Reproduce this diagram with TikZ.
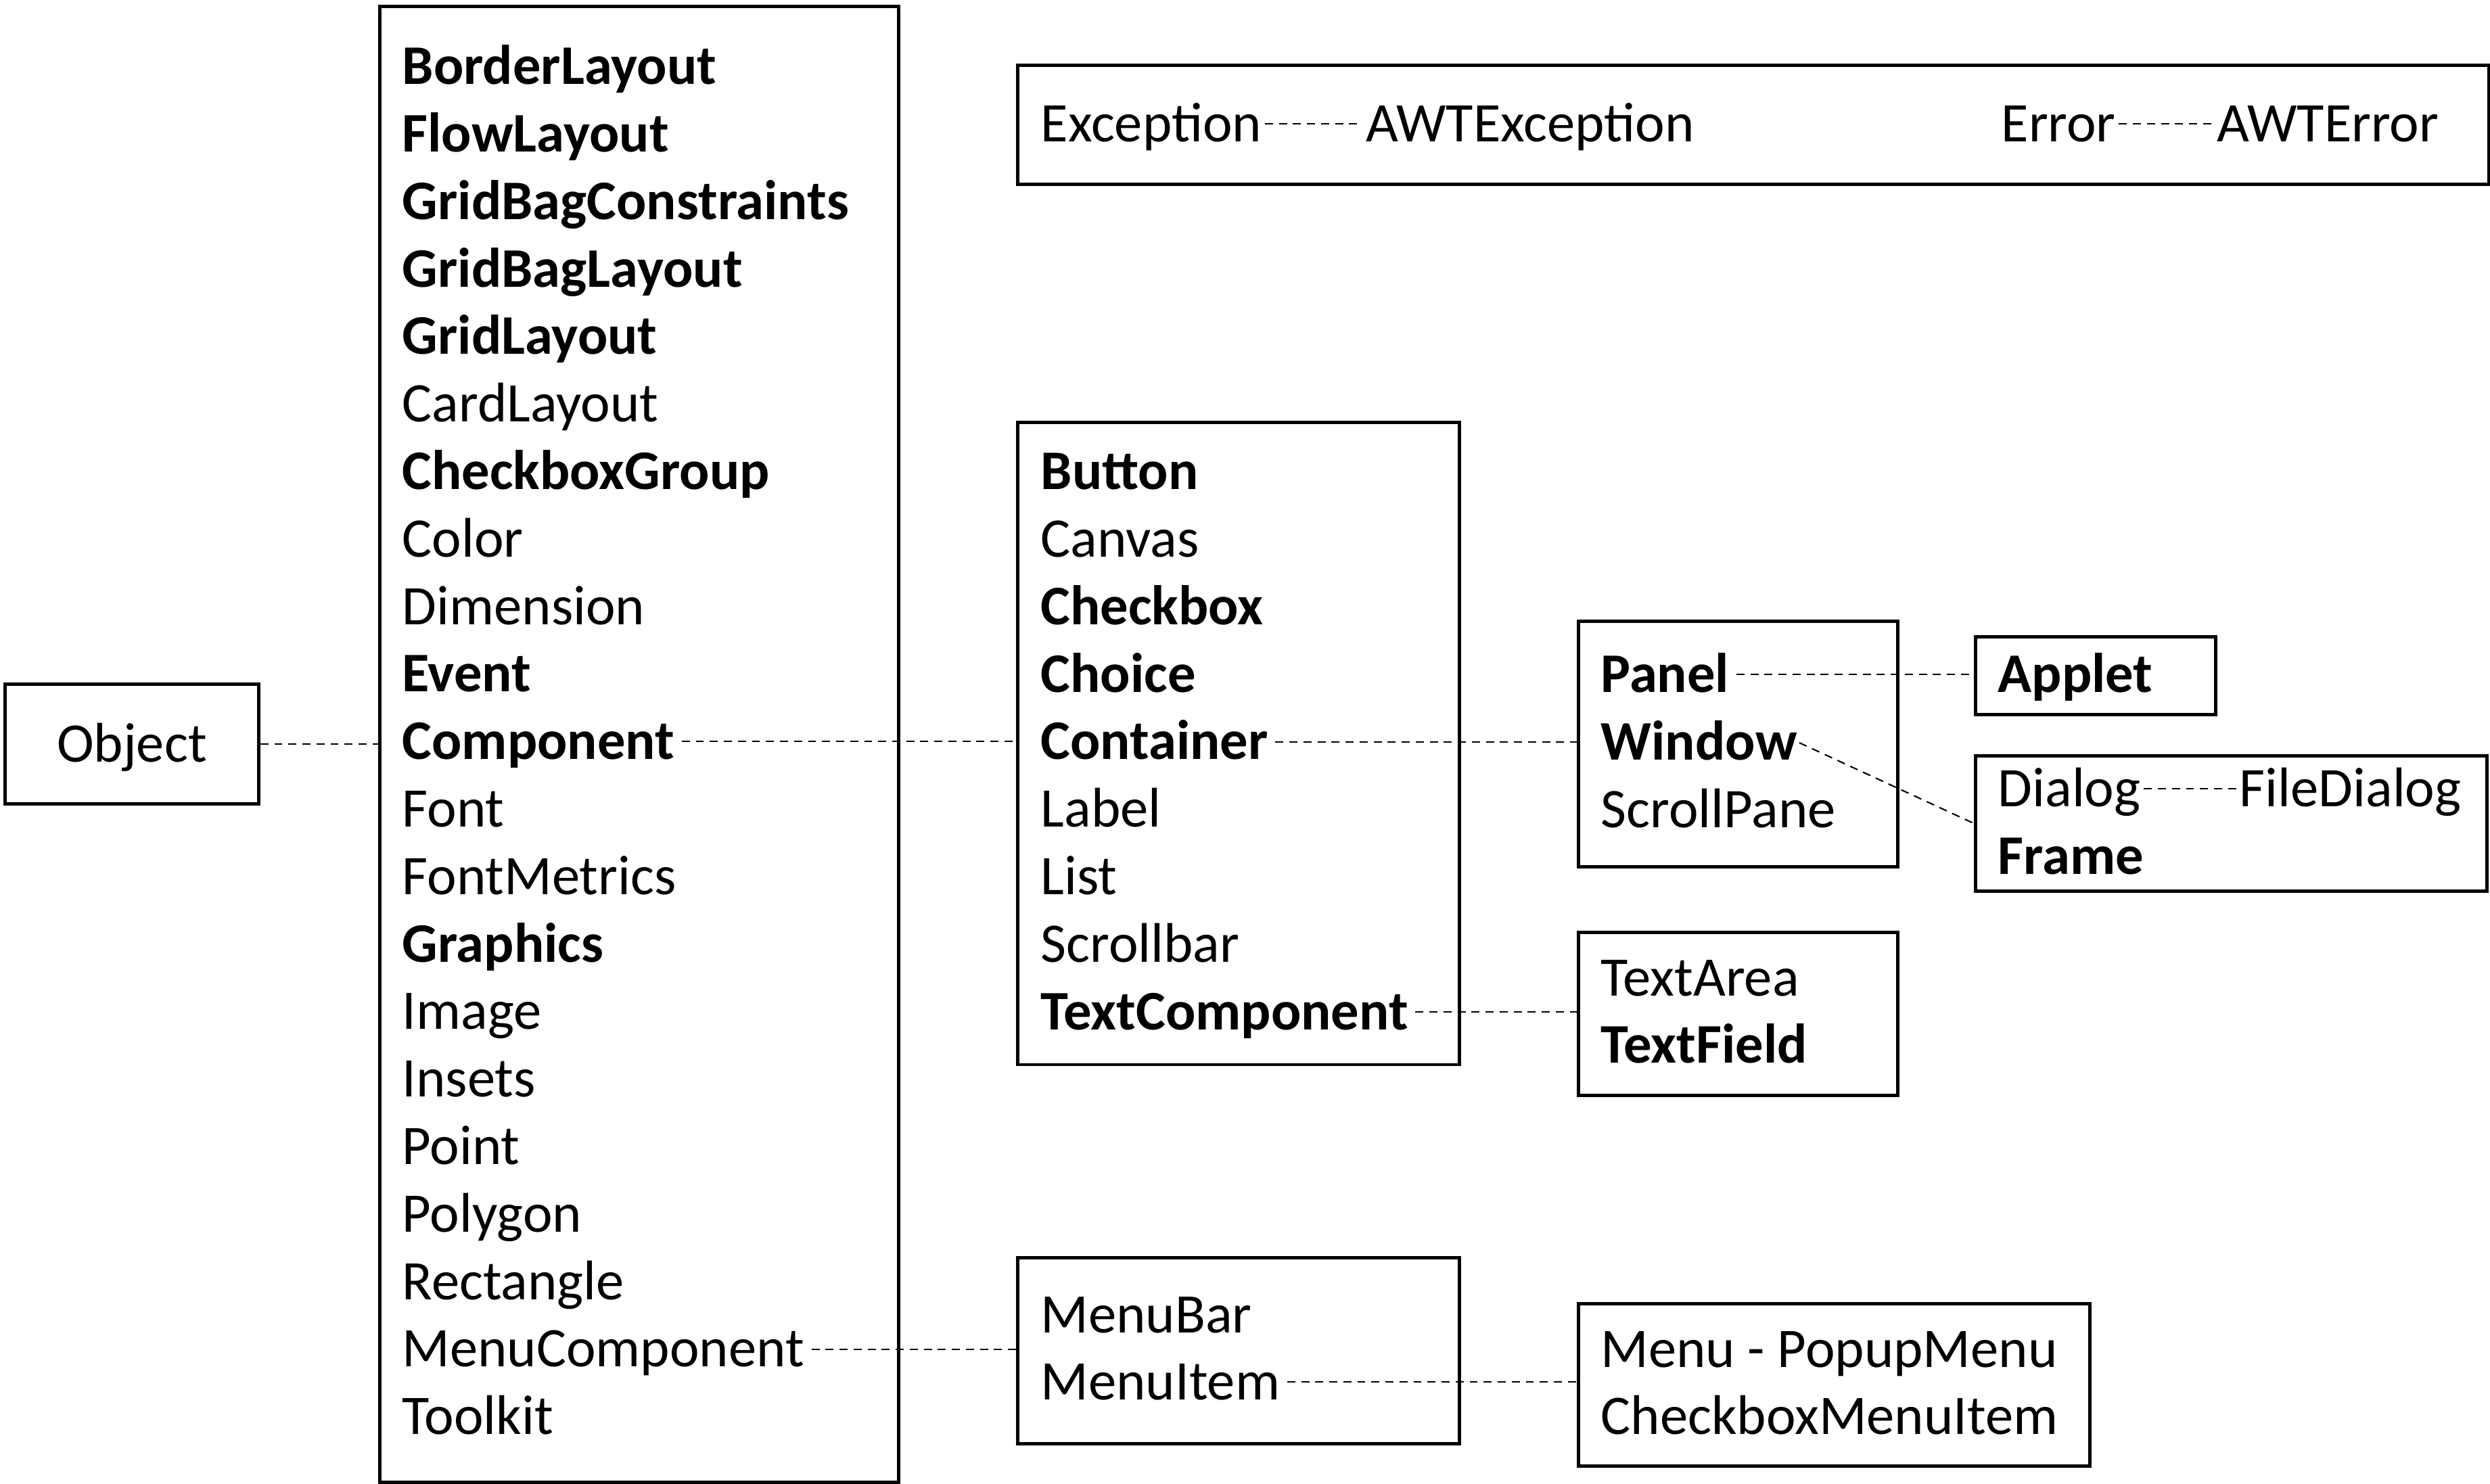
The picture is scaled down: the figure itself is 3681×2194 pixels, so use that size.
\documentclass[tikz,border=0pt]{standalone}
\usepackage{fontspec}
\setmainfont{Carlito}
\tikzstyle{box} = [draw=black, line width=1.3pt, inner sep=0pt, anchor=north west]
\tikzstyle{item} = [inner sep=0pt, anchor=base west, text height=14.9pt, text depth=0pt]
\tikzstyle{link} = [draw=black, line width=0.6pt, dash pattern=on 3.4pt off 2.5pt]

\begin{document}
\begin{tikzpicture}[x=0.01cm, y=-0.01cm, every node/.style={font=\fontsize{23.5}{28}\selectfont}]
\useasboundingbox (0,0) rectangle (3681,2194);

% boxes
\node[box, minimum width=3.75cm, minimum height=1.77cm, text height=14.9pt, text depth=0pt] (objbox) at (5,1009) {Object};
\node[box, minimum width=7.67cm, minimum height=21.81cm] (awtbox) at (559,7) {};
\node[box, minimum width=21.74cm, minimum height=1.76cm] (excbox) at (1502,94) {};
\node[box, minimum width=6.53cm, minimum height=9.49cm] (compbox) at (1502,622) {};
\node[box, minimum width=4.72cm, minimum height=3.63cm] (contbox) at (2331,916) {};
\node[box, minimum width=3.55cm, minimum height=1.15cm] (appletbox) at (2918,939) {};
\node[box, minimum width=7.56cm, minimum height=2.00cm] (windowbox) at (2918,1115) {};
\node[box, minimum width=4.72cm, minimum height=2.41cm] (textbox) at (2331,1376) {};
\node[box, minimum width=6.53cm, minimum height=2.75cm] (menubox) at (1502,1857) {};
\node[box, minimum width=7.56cm, minimum height=2.40cm] (itembox) at (2331,1925) {};

% java.awt classes
\foreach \txt/\wt [count=\i from 0] in {BorderLayout/\bfseries, FlowLayout/\bfseries,
    GridBagConstraints/\bfseries, GridBagLayout/\bfseries, GridLayout/\bfseries,
    CardLayout/\mdseries, CheckboxGroup/\bfseries, Color/\mdseries, Dimension/\mdseries,
    Event/\bfseries, Component/\bfseries, Font/\mdseries, FontMetrics/\mdseries,
    Graphics/\bfseries, Image/\mdseries, Insets/\mdseries, Point/\mdseries,
    Polygon/\mdseries, Rectangle/\mdseries, MenuComponent/\mdseries, Toolkit/\mdseries}
  \node[item] (\txt) at (594,124.6+\i*99.8) {\wt \txt};

% components
\foreach \txt/\wt [count=\i from 0] in {Button/\bfseries, Canvas/\mdseries,
    Checkbox/\bfseries, Choice/\bfseries, Container/\bfseries, Label/\mdseries,
    List/\mdseries, Scrollbar/\mdseries, TextComponent/\bfseries}
  \node[item] (\txt) at (1538,723.7+\i*99.8) {\wt \txt};

% containers
\node[item, font=\fontsize{23.5}{28}\selectfont\bfseries] (Panel) at (2366,1023) {Panel};
\node[item, font=\fontsize{23.5}{28}\selectfont\bfseries] (Window) at (2366,1123) {Window};
\node[item] (ScrollPane) at (2366,1223) {ScrollPane};
\node[item, font=\fontsize{23.5}{28}\selectfont\bfseries] (Applet) at (2953,1023) {Applet};
\node[item] (Dialog) at (2953,1192.5) {Dialog};
\node[item] (FileDialog) at (3310,1192.5) {FileDialog};
\node[item, font=\fontsize{23.5}{28}\selectfont\bfseries] (Frame) at (2953,1292) {Frame};
\node[item] (TextArea) at (2366,1472.5) {TextArea};
\node[item, font=\fontsize{23.5}{28}\selectfont\bfseries] (TextField) at (2366,1571.5) {TextField};

% menus
\node[item] (MenuBar) at (1538,1970.5) {MenuBar};
\node[item] (MenuItem) at (1538,2069.5) {MenuItem};
\node[item] (Menu) at (2366,2021.5) {Menu - PopupMenu};
\node[item] (CheckboxMenuItem) at (2366,2120.5) {CheckboxMenuItem};

% exceptions
\node[item] (Exception) at (1538,209.5) {Exception};
\node[item] (AWTException) at (2019,209.5) {AWTException};
\node[item] (Error) at (2958,209.5) {Error};
\node[item] (AWTError) at (3277,209.5) {AWTError};

% links
\draw[link] (objbox.east) -- (objbox.east -| awtbox.west);
\draw[link, shorten <=0.1cm] (Component.east) -- (Component.east -| compbox.west);
\draw[link, shorten <=0.1cm] (MenuComponent.east) -- (MenuComponent.east -| menubox.west);
\draw[link, shorten <=0.1cm] (Container.east) -- (Container.east -| contbox.west);
\draw[link, shorten <=0.1cm] (TextComponent.east) -- (TextComponent.east -| textbox.west);
\draw[link, shorten <=0.1cm] (MenuItem.east) -- (MenuItem.east -| itembox.west);
\draw[link, shorten <=0.1cm] (Panel.east) -- (Panel.east -| appletbox.west);
\draw[link, shorten <=0.03cm] (Window.east) -- (windowbox.west);
\draw[link, shorten <=0.04cm, shorten >=0.04cm] (Dialog.east) -- (FileDialog.west);
\draw[link, shorten <=0.04cm, shorten >=0.04cm] (Exception.east) -- (AWTException.west);
\draw[link, shorten <=0.04cm, shorten >=0.04cm] (Error.east) -- (AWTError.west);
\end{tikzpicture}
\end{document}
